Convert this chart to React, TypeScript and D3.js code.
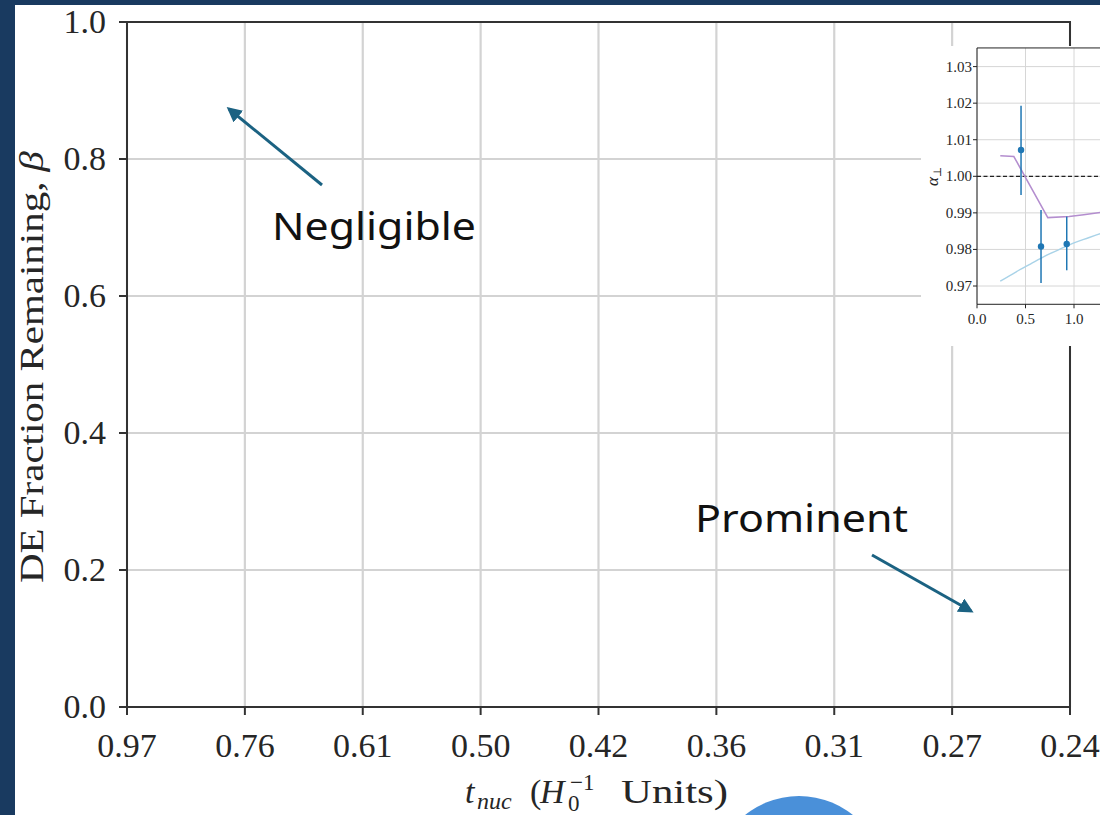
import React from "react";
import * as d3 from "d3";

const xTickLabels = ["0.97", "0.76", "0.61", "0.50", "0.42", "0.36", "0.31", "0.27", "0.24"];
const yTicks = [0, 0.2, 0.4, 0.6, 0.8, 1.0];

const insetYTicks = [0.97, 0.98, 0.99, 1.0, 1.01, 1.02, 1.03];
const insetXTicks = [0, 0.5, 1.0, 1.5, 2.0];
const ptX = [0.454, 0.66, 0.925];
const ptY = [1.0072, 0.9808, 0.9815];
const errLow = [0.9949, 0.9708, 0.9743];
const errHigh = [1.0193, 0.9908, 0.989];
const purpleX = [0.24, 0.38, 0.73, 0.95, 1.1, 1.3];
const purpleY = [1.0056, 1.0054, 0.9887, 0.989, 0.9895, 0.9902];
const lightX = [0.24, 0.4, 0.55, 0.7, 0.85, 1.0, 1.15, 1.3];
const lightY = [0.9713, 0.9738, 0.976, 0.9782, 0.98, 0.9818, 0.9832, 0.9846];

const W = 1100;
const H = 815;
const serif = "'Liberation Serif', 'DejaVu Serif', serif";
const sans = "'Noto Sans', 'Open Sans', sans-serif";
const arrowColor = "#1b6282";
const ink = "#262626";

export default function App() {
  const x = d3.scalePoint<string>().domain(xTickLabels).range([127, 1070]).padding(0);
  const y = d3.scaleLinear().domain([0, 1]).range([707, 22]);

  const ix = d3.scaleLinear().domain([0, 1]).range([977, 1074]);
  const iy = d3.scaleLinear().domain([0.97, 1.0]).range([286, 176.3]);
  const iTop = iy(1.0351);
  const iBot = iy(0.965);
  const line = d3
    .line<[number, number]>()
    .x((d) => ix(d[0]))
    .y((d) => iy(d[1]))
    .curve(d3.curveLinear);
  const smooth = d3
    .line<[number, number]>()
    .x((d) => ix(d[0]))
    .y((d) => iy(d[1]))
    .curve(d3.curveMonotoneX);

  const purple = purpleX.map((v, i) => [v, purpleY[i]] as [number, number]);
  const light = lightX.map((v, i) => [v, lightY[i]] as [number, number]);

  const arrows = [
    { x1: 322, y1: 185, x2: 229, y2: 109 },
    { x1: 872, y1: 555, x2: 971, y2: 611 },
  ];

  return (
    <svg
      width={W}
      height={H}
      style={{ position: "absolute", left: 0, top: 0, display: "block", overflow: "hidden" }}
    >
      <defs>
        <marker id="ah" viewBox="0 0 10 10" refX="8" refY="5" markerWidth="5" markerHeight="5" orient="auto">
          <path d="M0,0 L10,5 L0,10 z" fill={arrowColor} />
        </marker>
        <clipPath id="insetClip">
          <rect x={921} y={46} width={W - 921} height={300} />
        </clipPath>
      </defs>
      <rect x={0} y={0} width={W} height={H} fill="#ffffff" />
      <rect x={0} y={0} width={15} height={H} fill="#193a60" />
      <rect x={0} y={0} width={W} height={5} fill="#193a60" />

      {/* grid */}
      {xTickLabels.map((t) => (
        <line key={"gx" + t} x1={x(t)} x2={x(t)} y1={y(0)} y2={y(1)} stroke="#d3d3d3" strokeWidth={2.2} />
      ))}
      {yTicks.map((t) => (
        <line key={"gy" + t} x1={x("0.97")} x2={x("0.24")} y1={y(t)} y2={y(t)} stroke="#d3d3d3" strokeWidth={2.2} />
      ))}

      {/* spines */}
      <rect
        x={x("0.97")}
        y={y(1)}
        width={(x("0.24") as number) - (x("0.97") as number)}
        height={y(0) - y(1)}
        fill="none"
        stroke="#333"
        strokeWidth={2}
      />

      {/* ticks */}
      {xTickLabels.map((t) => (
        <g key={"tx" + t}>
          <line x1={x(t)} x2={x(t)} y1={y(0)} y2={y(0) + 8} stroke="#333" strokeWidth={2} />
          <text x={x(t)} y={757} textAnchor="middle" fontFamily={serif} fontSize={34} fill={ink}>
            {t}
          </text>
        </g>
      ))}
      {yTicks.map((t) => (
        <g key={"ty" + t}>
          <line x1={x("0.97")} x2={(x("0.97") as number) - 8} y1={y(t)} y2={y(t)} stroke="#333" strokeWidth={2} />
          <text x={106} y={y(t) + 11} textAnchor="end" fontFamily={serif} fontSize={34} fill={ink}>
            {t.toFixed(1)}
          </text>
        </g>
      ))}

      {/* axis labels */}
      <text
        transform={`translate(43,367) rotate(-90)`}
        textAnchor="middle"
        fontFamily={serif}
        fontSize={33}
        fill={ink}
        textLength={432}
        lengthAdjust="spacingAndGlyphs"
      >
        DE Fraction Remaining, <tspan fontStyle="italic">β</tspan>
      </text>
      <g fontFamily={serif} fill={ink}>
        <text x={465} y={803} fontSize={34} fontStyle="italic">t</text>
        <text x={477} y={809} fontSize={24} fontStyle="italic">nuc</text>
        <text x={530} y={803} fontSize={34}>(</text>
        <text x={540} y={803} fontSize={34} fontStyle="italic">H</text>
        <text x={570} y={790} fontSize={23}>−1</text>
        <text x={568} y={811} fontSize={23}>0</text>
        <text x={621} y={803} fontSize={34} textLength={107} lengthAdjust="spacingAndGlyphs">Units)</text>
      </g>

      {/* annotations */}
      <text x={272} y={240} fontFamily={sans} fontSize={39} fill="#111" textLength={204} lengthAdjust="spacingAndGlyphs">
        Negligible
      </text>
      <text x={695} y={532} fontFamily={sans} fontSize={38} fill="#111" textLength={213} lengthAdjust="spacingAndGlyphs">
        Prominent
      </text>
      {arrows.map((a, i) => (
        <line
          key={"ar" + i}
          x1={a.x1}
          y1={a.y1}
          x2={a.x2}
          y2={a.y2}
          stroke={arrowColor}
          strokeWidth={3}
          markerEnd="url(#ah)"
        />
      ))}

      {/* inset */}
      <g>
        <rect x={921} y={46} width={W - 921} height={300} fill="#ffffff" />
        <g clipPath="url(#insetClip)">
          {insetYTicks.map((t) => (
            <line key={"igy" + t} x1={ix(0)} x2={W} y1={iy(t)} y2={iy(t)} stroke="#d6d6d6" strokeWidth={1} />
          ))}
          {insetXTicks.map((t) => (
            <line key={"igx" + t} x1={ix(t)} x2={ix(t)} y1={iTop} y2={iBot} stroke="#d6d6d6" strokeWidth={1} />
          ))}
          <line x1={ix(0)} x2={W} y1={iy(1.0)} y2={iy(1.0)} stroke="#222" strokeWidth={1.2} strokeDasharray="4,2.5" />
          <path d={smooth(light) || ""} fill="none" stroke="#a9d3e8" strokeWidth={1.4} />
          <path d={line(purple) || ""} fill="none" stroke="#b48ecf" strokeWidth={1.5} />
          {ptX.map((v, i) => (
            <g key={"pt" + i}>
              <line x1={ix(v)} x2={ix(v)} y1={iy(errLow[i])} y2={iy(errHigh[i])} stroke="#1f77b4" strokeWidth={1.5} />
              <circle cx={ix(v)} cy={iy(ptY[i])} r={3.2} fill="#1f77b4" />
            </g>
          ))}
          <line x1={ix(0)} x2={ix(0)} y1={iTop} y2={iBot} stroke="#222" strokeWidth={1} />
          <line x1={ix(0)} x2={W} y1={iTop} y2={iTop} stroke="#222" strokeWidth={1} />
          <line x1={ix(0)} x2={W} y1={iBot} y2={iBot} stroke="#222" strokeWidth={1} />
          {insetYTicks.map((t) => (
            <g key={"ity" + t}>
              <line x1={ix(0) - 4} x2={ix(0)} y1={iy(t)} y2={iy(t)} stroke="#222" strokeWidth={1} />
              <text x={972} y={iy(t) + 5} textAnchor="end" fontFamily={serif} fontSize={15} fill={ink}>
                {t.toFixed(2)}
              </text>
            </g>
          ))}
          {insetXTicks.map((t) => (
            <g key={"itx" + t}>
              <line x1={ix(t)} x2={ix(t)} y1={iBot} y2={iBot + 4} stroke="#222" strokeWidth={1} />
              <text x={ix(t)} y={324} textAnchor="middle" fontFamily={serif} fontSize={15} fill={ink}>
                {t.toFixed(1)}
              </text>
            </g>
          ))}
          <text
            transform={`translate(938,${iy(1.0)}) rotate(-90)`}
            textAnchor="middle"
            fontFamily={serif}
            fontSize={17}
            fill={ink}
          >
            <tspan fontStyle="italic">α</tspan>
            <tspan fontSize={11} dy={3}>⊥</tspan>
          </text>
        </g>
      </g>

      {/* blue circle */}
      <circle cx={799} cy={882} r={86} fill="#4a90d9" />
    </svg>
  );
}
